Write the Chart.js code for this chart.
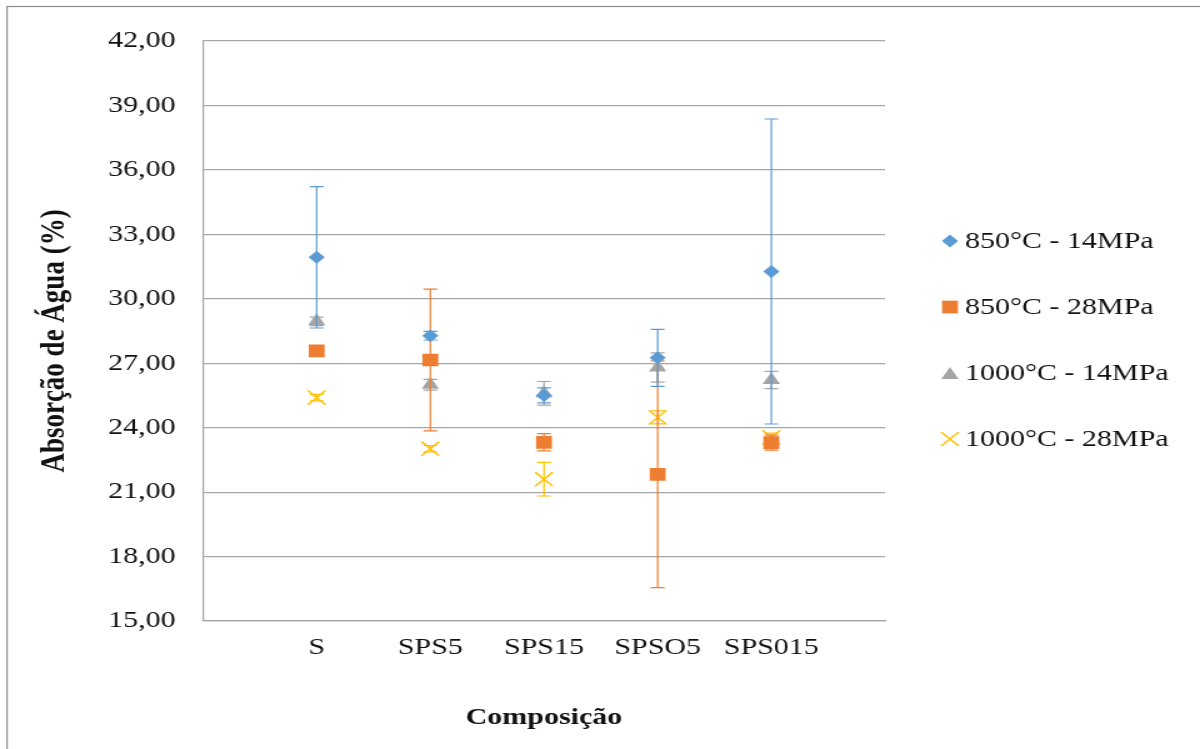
<!DOCTYPE html>
<html lang="pt">
<head>
<meta charset="UTF-8">
<title>Absorção de Água</title>
<script src="https://cdn.jsdelivr.net/npm/chart.js"></script>
<style>
  html, body { margin: 0; padding: 0; background: #fff; }
  #grafico { display: block; }
</style>
</head>
<body>
<!-- the original picture is stretched sideways, so the canvas is drawn narrower and widened by CSS -->
<canvas id="grafico" width="960" height="749" style="width:1200px;height:749px"></canvas>
<script>
const composicoes = ['S', 'SPS5', 'SPS15', 'SPSO5', 'SPS015'];
const nomesSeries = ['850°C - 14MPa', '850°C - 28MPa', '1000°C - 14MPa', '1000°C - 28MPa'];
const tituloY = 'Absorção de Água (%)';

const abs850_14 = [31.93, 28.28, 25.50, 27.25, 31.27];
const err850_14 = [3.29, 0.20, 0.35, 1.33, 7.10];
const abs850_28 = [27.58, 27.15, 23.32, 21.83, 23.30];
const err850_28 = [0.10, 3.30, 0.40, 5.28, 0.35];
const abs1000_14 = [28.95, 26.00, 25.60, 26.80, 26.22];
const err1000_14 = [0.20, 0.25, 0.55, 0.68, 0.40];
const abs1000_28 = [25.40, 23.02, 21.60, 24.48, 23.55];
const err1000_28 = [0.15, 0.15, 0.78, 0.30, 0.20];

const yTicks = [15, 18, 21, 24, 27, 30, 33, 36, 39, 42];

const fonte = '"Liberation Serif", "Times New Roman", serif';
const cores = ['#5B9BD5', '#ED7D31', '#A5A5A5', '#FFC000'];

function pontos(vals) {
  return vals.map((v, i) => ({ x: i + 1, y: v }));
}

const erros = [err850_14, err850_28, err1000_14, err1000_28];

// error bars, drawn just before the markers of the same series
const barrasErro = {
  id: 'barrasErro',
  beforeDatasetDraw(chart, args) {
    const i = args.index;
    const ds = chart.data.datasets[i];
    const { ctx, scales } = chart;
    ctx.save();
    ctx.strokeStyle = cores[i];
    ctx.lineWidth = 1.2;
    ds.data.forEach((p, k) => {
      const e = erros[i][k];
      const x = scales.x.getPixelForValue(p.x);
      const y1 = scales.y.getPixelForValue(p.y + e);
      const y2 = scales.y.getPixelForValue(p.y - e);
      ctx.beginPath();
      ctx.moveTo(x, y1); ctx.lineTo(x, y2);
      ctx.moveTo(x - 5.5, y1); ctx.lineTo(x + 5.5, y1);
      ctx.moveTo(x - 5.5, y2); ctx.lineTo(x + 5.5, y2);
      ctx.stroke();
    });
    ctx.restore();
  }
};

// legend on the right, the y title and the outer frame
const legenda = {
  id: 'legenda',
  afterDraw(chart) {
    const ctx = chart.ctx;
    ctx.save();
    ctx.strokeStyle = '#8c8c8c';
    ctx.lineWidth = 1.2;
    ctx.strokeRect(5.6, 6.5, 1200, 900);

    ctx.save();
    ctx.translate(44, 341);
    ctx.rotate(-Math.PI / 2);
    ctx.font = 'bold 27px ' + fonte;
    ctx.fillStyle = '#111';
    ctx.textAlign = 'center';
    ctx.textBaseline = 'middle';
    ctx.fillText(tituloY, 0, 0);
    ctx.restore();

    ctx.font = '24px ' + fonte;
    ctx.textBaseline = 'middle';
    ctx.textAlign = 'left';
    chart.data.datasets.forEach((ds, i) => {
      const y = 241 + i * 66;
      const x = 760;
      ctx.fillStyle = cores[i];
      ctx.strokeStyle = cores[i];
      ctx.lineWidth = ds.pointBorderWidth || 0;
      Chart.helpers.drawPoint(ctx, {
        pointStyle: ds.pointStyle,
        radius: ds.pointRadius,
        borderWidth: ds.pointBorderWidth || 0,
        rotation: 0
      }, x, i === 2 ? y + 2 : y);
      ctx.fillStyle = '#111';
      ctx.fillText(ds.label, 772, y + 1);
    });
    ctx.restore();
  }
};

new Chart(document.getElementById('grafico'), {
  type: 'scatter',
  data: {
    datasets: [
      { label: nomesSeries[0], data: pontos(abs850_14), pointStyle: 'rectRot', pointRadius: 6.5,
        pointBackgroundColor: cores[0], pointBorderColor: cores[0], pointBorderWidth: 0 },
      { label: nomesSeries[1], data: pontos(abs850_28), pointStyle: 'rect', pointRadius: 9,
        pointBackgroundColor: cores[1], pointBorderColor: cores[1], pointBorderWidth: 0 },
      { label: nomesSeries[2], data: pontos(abs1000_14), pointStyle: 'triangle', pointRadius: 8,
        pointBackgroundColor: cores[2], pointBorderColor: cores[2], pointBorderWidth: 0 },
      { label: nomesSeries[3], data: pontos(abs1000_28), pointStyle: 'crossRot', pointRadius: 10,
        pointBackgroundColor: cores[3], pointBorderColor: cores[3], pointBorderWidth: 1.5 }
    ]
  },
  options: {
    responsive: false,
    animation: false,
    events: [],
    layout: { padding: { left: 0, top: 41, right: 252, bottom: 0 } },
    plugins: { legend: { display: false }, tooltip: { enabled: false } },
    scales: {
      x: {
        type: 'linear', min: 0, max: 6,
        afterFit(s) { s.height = 128; },
        grid: { display: false },
        border: { display: true, color: '#a6a6a6', width: 1.2 },
        ticks: {
          stepSize: 1, autoSkip: false, maxRotation: 0, padding: 4, color: '#111',
          font: { family: fonte, size: 24 },
          callback: (v) => composicoes[v - 1] || ''
        },
        title: {
          display: true, text: 'Composição', color: '#111',
          font: { family: fonte, size: 24, weight: 'bold' },
          padding: { top: 0, bottom: 17 }
        }
      },
      y: {
        min: 15, max: 42,
        afterFit(s) { s.width = 162.4; },
        afterBuildTicks(s) { s.ticks = yTicks.map(v => ({ value: v })); },
        grid: { color: '#a6a6a6', lineWidth: 1.2, drawTicks: false },
        border: { display: true, color: '#a6a6a6', width: 1.2 },
        ticks: {
          padding: 22, color: '#111',
          font: { family: fonte, size: 24 },
          callback: (v) => v.toFixed(2).replace('.', ',')
        }
      }
    }
  },
  plugins: [barrasErro, legenda]
});
</script>
</body>
</html>
